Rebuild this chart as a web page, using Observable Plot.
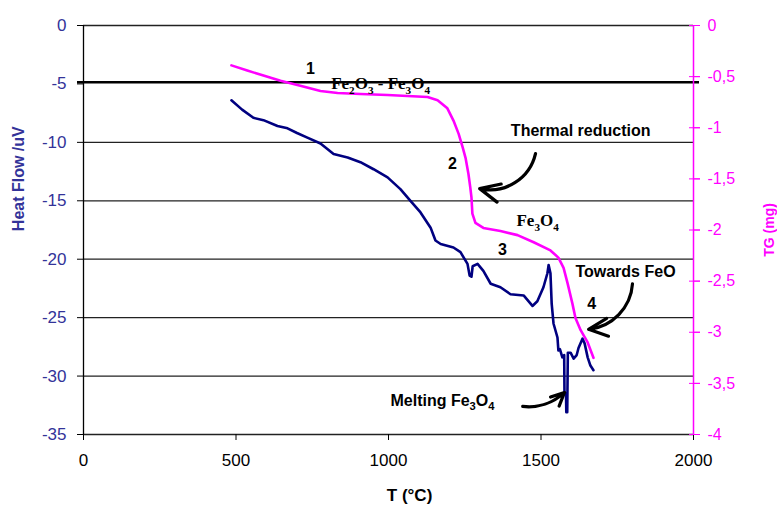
<!DOCTYPE html>
<html><head><meta charset="utf-8">
<script src="https://cdn.jsdelivr.net/npm/d3@7"></script>
<script src="https://cdn.jsdelivr.net/npm/@observablehq/plot@0.6"></script>
<style>body{margin:0;background:#fff} svg{font-family:"Liberation Sans",Arial,sans-serif}</style>
</head><body><div id="chart"></div>
<script>
// Heat flow (uV) vs T (°C)
const hfT   = [485,520,557,590,636,669,700,734,777,820,866,908,951,997,1039,1072,1105,1138,1154,1171,1213,1236,1259,1266,1272,1276,1292,1311,1335,1367,1400,1443,1472,1488,1508,1521,1525,1531,1535,1541,1554,1557,1562,1570,1576,1577,1582,1583,1586,1588,1597,1607,1617,1623,1636,1643,1653,1662,1672];
const hfVal = [-6.4,-7.2,-7.9,-8.1,-8.6,-8.8,-9.2,-9.6,-10.1,-11.0,-11.3,-11.7,-12.3,-13.0,-14.0,-15.0,-16.0,-17.3,-18.4,-18.7,-19.0,-19.4,-20.4,-21.4,-21.5,-20.6,-20.4,-21.0,-22.1,-22.4,-23.0,-23.1,-24.0,-23.6,-22.4,-21.2,-20.5,-21.2,-23.8,-25.5,-26.7,-27.8,-27.7,-28.4,-28.2,-31.5,-31.5,-33.1,-33.1,-28.0,-28.0,-28.5,-28.2,-27.6,-26.8,-27.2,-28.4,-29.1,-29.5];
// TG (mg) vs T (°C)
const tgT   = [485,537,590,646,711,777,833,908,997,1062,1128,1161,1193,1213,1230,1243,1253,1262,1268,1272,1275,1285,1311,1367,1423,1476,1531,1557,1574,1587,1603,1613,1630,1653,1672];
const tgVal = [-0.39,-0.44,-0.49,-0.54,-0.59,-0.64,-0.66,-0.67,-0.68,-0.69,-0.70,-0.73,-0.81,-0.93,-1.06,-1.19,-1.30,-1.45,-1.58,-1.68,-1.84,-1.93,-1.98,-2.01,-2.05,-2.12,-2.20,-2.27,-2.37,-2.52,-2.72,-2.86,-2.98,-3.10,-3.25];

const xTicks  = [0,500,1000,1500,2000];
const hfTicks = [0,-5,-10,-15,-20,-25,-30,-35];
const tgTicks = [0,-0.5,-1,-1.5,-2,-2.5,-3,-3.5,-4];
const gridVals = [-10,-15,-20,-25,-30];
const refLine = [-4.85];

// annotations (text, T, heat-flow units)
const sansText = ["1","Thermal reduction","2","3","Towards FeO","4","Melting Fe_3O_4"];
const sansX    = [744,1630,1210,1374,1777,1666,1177];
const sansY    = [-3.73,-9.0,-11.86,-19.2,-21.1,-23.8,-32.1];
const serifText = ["Fe_2O_3 - Fe_3O_4","Fe_3O_4"];
const serifX    = [974,1489];
const serifY    = [-5.0,-16.7];
// arrows
const arrX1 = [1482,1800,1440];
const arrY1 = [-10.96,-22.1,-32.6];
const arrX2 = [1299,1656,1577];
const arrY2 = [-13.96,-26.0,-31.4];
const arrBend = [45,40,-25];

const K = 35/4; // TG -> heat-flow scale
const hfData = hfT.map((t,i)=>({t, v: hfVal[i]}));
const tgData = tgT.map((t,i)=>({t, v: tgVal[i]*K}));
const sansData = sansText.map((s,i)=>({s, x:sansX[i], y:sansY[i]}));
const serifData = serifText.map((s,i)=>({s, x:serifX[i], y:serifY[i]}));
const arrData = arrX1.map((x,i)=>({x1:x, y1:arrY1[i], x2:arrX2[i], y2:arrY2[i], b:arrBend[i]}));

const BLUE="#333399", MAG="#ff00ff";
const svg = Plot.plot({
  width: 777, height: 509,
  marginLeft: 83, marginRight: 84, marginTop: 25, marginBottom: 75,
  x: {domain: [0,2000]},
  y: {domain: [-35,0]},
  style: {fontFamily: '"Liberation Sans", Arial, sans-serif', background: "#fff"},
  marks: [
    Plot.ruleY(gridVals, {stroke: "#222", strokeWidth: 1.3}),
    Plot.ruleY([0], {stroke: "#222", strokeWidth: 1.3}),
    Plot.ruleY(refLine, {stroke: "#000", strokeWidth: 2.4, insetLeft: -6, insetRight: -6}),
    Plot.ruleY([-35], {stroke: "#222", strokeWidth: 1.3}),
    Plot.ruleX([0], {stroke: "#000", strokeWidth: 1.3}),
    Plot.axisY({ticks: hfTicks, tickSize: 6, tickPadding: 11, stroke: "#000", fill: BLUE, fontSize: 17, tickFormat: d => String(d), label: null}),
    Plot.axisX({ticks: xTicks, tickSize: 6, tickPadding: 13, stroke: "#000", fill: "#000", fontSize: 17, tickFormat: d => String(d), label: null}),
    Plot.axisY({anchor: "right", ticks: tgTicks.map(d=>d*K), tickSize: 11, dx: -5, stroke: MAG, tickFormat: () => "", label: null}),
    Plot.axisY({anchor: "right", ticks: tgTicks.map(d=>d*K), tickSize: 6, tickPadding: 8, stroke: MAG, fill: MAG, fontSize: 16, tickFormat: d => String(+(d/K).toFixed(1)).replace(".", ","), label: null}),
    Plot.ruleX([2000], {stroke: MAG, strokeWidth: 1.5}),
    Plot.line(tgData, {x: "t", y: "v", stroke: MAG, strokeWidth: 2.6}),
    Plot.line(hfData, {x: "t", y: "v", stroke: "#000080", strokeWidth: 2.6}),
    ...arrData.map(a => Plot.arrow([a], {x1: "x1", y1: "y1", x2: "x2", y2: "y2", bend: a.b, stroke: "#000", strokeWidth: 3.2, headLength: 13, headAngle: 50, insetEnd: 0})),
    Plot.text(sansData, {x: "x", y: "y", text: "s", fontSize: 16, fontWeight: "bold", fill: "#000"}),
    Plot.text(serifData, {x: "x", y: "y", text: "s", fontSize: 17, fontWeight: "bold", fill: "#000", fontFamily: '"Liberation Serif", "Times New Roman", serif'}),
    Plot.text(["Heat Flow /uV"], {frameAnchor: "left", y: () => -17.6, dx: -65, rotate: -90, fontSize: 16, fontWeight: "bold", fill: BLUE}),
    Plot.text(["TG (mg)"], {frameAnchor: "right", y: () => -15.2, dx: 76, rotate: -90, fontSize: 14, fontWeight: "bold", fill: MAG}),
    Plot.text(["T (°C)"], {frameAnchor: "bottom", x: () => 1069, dy: 66, fontSize: 17, fontWeight: "bold", fill: "#000"})
  ]
});
// subscripts
svg.querySelectorAll("text").forEach(t => {
  const s = t.textContent;
  if (!s.includes("_")) return;
  const fs = parseFloat(t.getAttribute("font-size") || getComputedStyle(t).fontSize) || 16;
  const shift = fs * 0.28;
  while (t.firstChild) t.removeChild(t.firstChild);
  const parts = s.split(/(_\d)/).filter(p => p.length);
  let sub = false;
  parts.forEach(p => {
    const ts = document.createElementNS("http://www.w3.org/2000/svg", "tspan");
    if (p[0] === "_") {
      ts.textContent = p.slice(1);
      ts.setAttribute("font-size", fs*0.7);
      if (!sub) ts.setAttribute("dy", shift);
      sub = true;
    } else {
      ts.textContent = p;
      if (sub) ts.setAttribute("dy", -shift);
      sub = false;
    }
    t.appendChild(ts);
  });
});
document.getElementById("chart").appendChild(svg);
</script>
</body></html>
